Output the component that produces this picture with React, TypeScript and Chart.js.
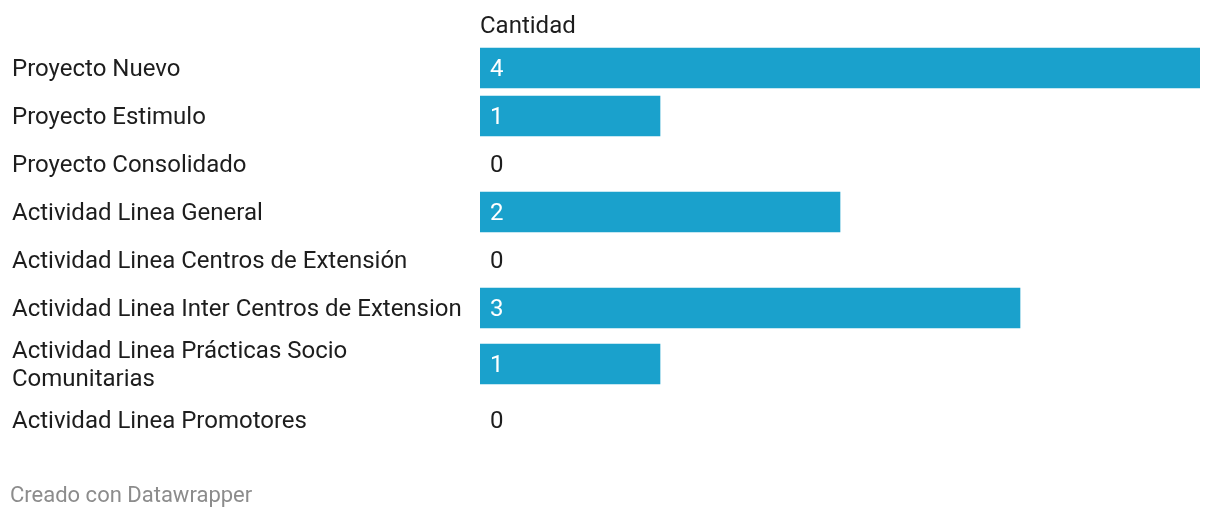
import React, { useEffect, useRef } from "react";
import { Chart, registerables } from "chart.js";

Chart.register(...registerables);

const categories: (string | string[])[] = [
  "Proyecto Nuevo",
  "Proyecto Estimulo",
  "Proyecto Consolidado",
  "Actividad Linea General",
  "Actividad Linea Centros de Extensión",
  "Actividad Linea Inter Centros de Extension",
  ["Actividad Linea Prácticas Socio", "Comunitarias"],
  "Actividad Linea Promotores",
];
const cantidad = [4, 1, 0, 2, 0, 3, 1, 0];
const seriesName = "Cantidad";
const footerText = "Creado con Datawrapper";
const axisMax = 4;

const FONT = "Roboto";
const TEXT = "#1d1d1d";
const BAR = "#1aa1cc";

// layout: row height grows with the number of label lines
const ROW = 48;
const EXTRA_LINE = 16;
const rowHeights = categories.map((c) => ROW + ((Array.isArray(c) ? c.length : 1) - 1) * EXTRA_LINE);
const rowCenters: number[] = [];
{
  let acc = 0;
  rowHeights.forEach((h) => {
    rowCenters.push(acc + h / 2);
    acc += h;
  });
}
const totalHeight = rowHeights.reduce((a, b) => a + b, 0);

const textPlugin = {
  id: "dwText",
  afterDatasetsDraw(chart: any) {
    const ctx = chart.ctx;
    const meta = chart.getDatasetMeta(0);
    const area = chart.chartArea;
    ctx.save();
    ctx.font = `24px ${FONT}`;
    ctx.textAlign = "left";
    ctx.textBaseline = "middle";
    meta.data.forEach((bar: any, i: number) => {
      const v = cantidad[i];
      ctx.fillStyle = v > 0 ? "#ffffff" : TEXT;
      ctx.fillText(String(v), area.left + 10, bar.y + 2);
    });
    ctx.fillStyle = TEXT;
    ctx.fillText(seriesName, area.left, 18.5);
    ctx.font = `22px ${FONT}`;
    ctx.fillStyle = "#8c8c8c";
    ctx.fillText(footerText, 2, 488);
    ctx.restore();
  },
};

export default function App() {
  const ref = useRef<HTMLCanvasElement | null>(null);
  useEffect(() => {
    if (!ref.current) return;
    Chart.defaults.font.family = FONT;
    const chart = new Chart(ref.current, {
      type: "bar",
      data: {
        datasets: [
          {
            label: seriesName,
            data: cantidad.map((v, i) => ({ x: v, y: rowCenters[i] })),
            backgroundColor: cantidad.map((v) => (v > 0 ? BAR : "rgba(0,0,0,0)")),
            barThickness: 40,
            borderWidth: 0,
          },
        ],
      },
      options: {
        indexAxis: "y",
        animation: false,
        responsive: true,
        maintainAspectRatio: false,
        layout: { padding: { left: 4, right: 12, top: 36, bottom: 66 } },
        plugins: {
          legend: { display: false },
          tooltip: { enabled: false },
        },
        scales: {
          x: { type: "linear", display: false, min: 0, max: axisMax },
          y: {
            type: "linear",
            reverse: true,
            offset: false,
            min: 0,
            max: totalHeight,
            grid: { display: false, offset: false },
            border: { display: false },
            afterFit: (scale: any) => {
              scale.width = 468;
              scale.paddingTop = 0;
              scale.paddingBottom = 0;
            },
            afterBuildTicks: (scale: any) => {
              scale.ticks = rowCenters.map((v) => ({ value: v + 2 }));
            },
            ticks: {
              crossAlign: "far",
              color: TEXT,
              font: { size: 24, family: FONT, lineHeight: 1.17 },
              autoSkip: false,
              callback: (_v: any, i: number) => categories[i],
            },
          },
        },
      },
      plugins: [textPlugin],
    });
    return () => chart.destroy();
  }, []);
  return (
    <div style={{ position: "relative", width: "100%", height: 502 }}>
      <canvas ref={ref} />
    </div>
  );
}
